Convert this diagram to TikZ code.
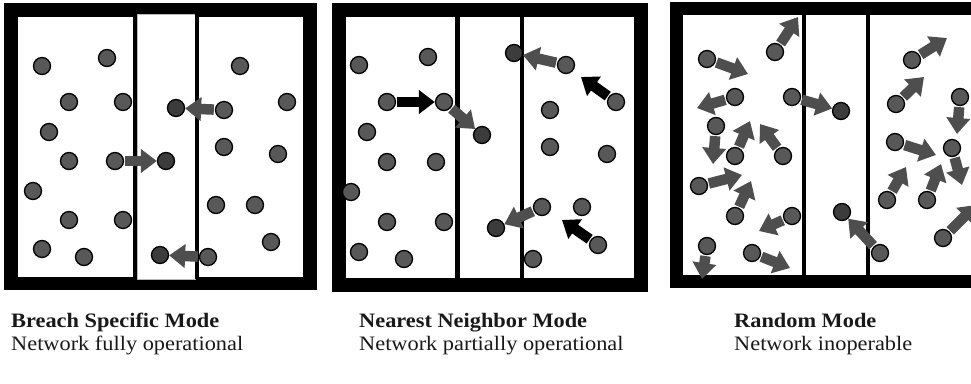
\documentclass[tikz,border=0pt]{standalone}
\usepackage{fontspec}
\setmainfont{Liberation Serif}
\newfontfamily\capfont[FakeStretch=1.09]{Liberation Serif}
\usetikzlibrary{arrows.meta}
\pgfdeclarelayer{back}
\pgfdeclarelayer{mid}
\pgfsetlayers{back,mid,main}
\definecolor{dotgray}{RGB}{88,88,88}
\definecolor{dotdark}{RGB}{60,60,60}
\definecolor{arrgray}{RGB}{78,78,78}
\definecolor{txt}{RGB}{25,25,25}
\tikzset{
  dot/.style={circle, draw=black, line width=1.3pt, fill=dotgray, minimum size=17pt, inner sep=0pt},
  ddot/.style={dot, fill=dotdark},
  mv/.style={draw=arrgray, line width=10.5pt, shorten <=1pt, -{Triangle[length=16pt,width=23pt]}},
  mvk/.style={mv, draw=black},
  frame/.style={fill=black},
  inner/.style={fill=white},
  divider/.style={draw=black, line width=4.2pt},
  strip/.style={fill=white, draw=gray!55, line width=0.6pt},
  ttl/.style={anchor=base west, inner sep=0pt, text=txt, font=\capfont\bfseries\fontsize{20.5}{24}\selectfont},
  sub/.style={anchor=base west, inner sep=0pt, text=txt, font=\capfont\fontsize{20.5}{24}\selectfont}
}
\begin{document}
\begin{tikzpicture}[x=1pt,y=-1pt]
\useasboundingbox (0,0) rectangle (971,383);

% ---------- frames ----------
\begin{pgfonlayer}{back}
  \fill[white] (0,0) rectangle (971,383);
  % panel 1
  \fill[frame] (4,3) rectangle (317,290);
  \fill[inner] (18,17) rectangle (303,277);
  \filldraw[strip] (137,14) rectangle (195,279);
  \draw[divider] (135,14) -- (135,279);
  \draw[divider] (197,14) -- (197,279);
  % panel 2
  \fill[frame] (332,3) rectangle (648,292);
  \fill[inner] (346,17) rectangle (634,278);
  \draw[divider] (457.5,17) -- (457.5,278);
  \draw[divider] (522,17) -- (522,278);
  % panel 3
  \fill[frame] (670,2) rectangle (975,288);
  \fill[inner] (683,15) rectangle (975,275);
  \draw[divider] (804,15) -- (804,275);
  \draw[divider] (868,15) -- (868,275);
\end{pgfonlayer}

% ---------- panel 1 dots ----------
\node[dot] (a1) at (42,66) {};
\node[dot] (a2) at (107,58) {};
\node[dot] (a3) at (69,102) {};
\node[dot] (a4) at (123,102) {};
\node[dot] (a5) at (49,132) {};
\node[dot] (a6) at (69,161) {};
\node[dot] (a7) at (115,161) {};
\node[dot] (a8) at (33,191) {};
\node[dot] (a9) at (69,220) {};
\node[dot] (a10) at (123,220) {};
\node[dot] (a11) at (42,249) {};
\node[dot] (a12) at (84,257) {};
\node[ddot] (a13) at (176,108) {};
\node[ddot] (a14) at (166,161) {};
\node[ddot] (a15) at (160,255) {};
\node[dot] (a16) at (240,66) {};
\node[dot] (a17) at (287,102) {};
\node[dot] (a18) at (224,110) {};
\node[dot] (a19) at (224,147) {};
\node[dot] (a20) at (278,154) {};
\node[dot] (a21) at (216,205) {};
\node[dot] (a22) at (255,205) {};
\node[dot] (a23) at (271,242) {};
\node[dot] (a24) at (208,257) {};

% ---------- panel 2 dots ----------
\node[dot] (b1) at (359,65) {};
\node[dot] (b2) at (428,57) {};
\node[dot] (b3) at (387,102) {};
\node[dot] (b4) at (444,102) {};
\node[dot] (b5) at (367,132) {};
\node[ddot] (b6) at (482,135) {};
\node[dot] (b7) at (387,162) {};
\node[dot] (b8) at (436,162) {};
\node[dot] (b9) at (351,192) {};
\node[dot] (b10) at (387,222) {};
\node[dot] (b11) at (444,222) {};
\node[dot] (b12) at (359,252) {};
\node[dot] (b13) at (404,259) {};
\node[ddot] (b14) at (514,53) {};
\node[dot] (b15) at (566,65) {};
\node[dot] (b16) at (616,102) {};
\node[dot] (b17) at (550,110) {};
\node[dot] (b18) at (550,147) {};
\node[dot] (b19) at (607,154) {};
\node[dot] (b20) at (542,207) {};
\node[dot] (b21) at (582,207) {};
\node[ddot] (b22) at (496,228) {};
\node[dot] (b23) at (598,245) {};
\node[dot] (b24) at (533,259) {};

% ---------- panel 3 dots ----------
\node[dot] (c1) at (707,59) {};
\node[dot] (c2) at (775,52) {};
\node[dot] (c3) at (735,97) {};
\node[dot] (c4) at (792,97) {};
\node[ddot] (c5) at (841,111) {};
\node[dot] (c6) at (716,126) {};
\node[dot] (c7) at (735,156) {};
\node[dot] (c8) at (783,156) {};
\node[dot] (c9) at (699,186) {};
\node[dot] (c10) at (735,216) {};
\node[dot] (c11) at (792,216) {};
\node[ddot] (c12) at (842,212) {};
\node[dot] (c13) at (707,246) {};
\node[dot] (c14) at (752,253) {};
\node[dot] (c15) at (880,253) {};
\node[dot] (c16) at (912,60) {};
\node[dot] (c17) at (896,104) {};
\node[dot] (c18) at (960,97) {};
\node[dot] (c19) at (895,142) {};
\node[dot] (c20) at (952,148) {};
\node[dot] (c21) at (887,200) {};
\node[dot] (c22) at (927,200) {};
\node[dot] (c23) at (943,238) {};

% free arrow ends
\coordinate (e16) at (581,77);
\coordinate (e23) at (562,220);
\coordinate (f1) at (748,74);
\coordinate (f2) at (798,17);
\coordinate (f3) at (697,108);
\coordinate (f6) at (713,164);
\coordinate (f7) at (750,121);
\coordinate (f8) at (760,124);
\coordinate (f9) at (742,175);
\coordinate (f10) at (751,181);
\coordinate (f11) at (759,231);
\coordinate (f13) at (702,279);
\coordinate (f14) at (790,268);
\coordinate (f16) at (947,38);
\coordinate (f17) at (924,77);
\coordinate (f18) at (957,134);
\coordinate (f19) at (936,155);
\coordinate (f20) at (962,185);
\coordinate (f21) at (906,167);
\coordinate (f22) at (941,164);
\coordinate (f23) at (976,205);

% ---------- arrows ----------
\begin{pgfonlayer}{mid}
  \draw[mv] (a18) -- (a13);
  \draw[mv] (a7) -- (a14);
  \draw[mv] (a24) -- (a15);

  \draw[mvk] (b3) -- (b4);
  \draw[mv] (b4) -- (b6);
  \draw[mv] (b15) -- (b14);
  \draw[mvk] (b16) -- (e16);
  \draw[mv] (b20) -- (b22);
  \draw[mvk] (b23) -- (e23);

  \draw[mv] (c1) -- (f1);
  \draw[mv] (c2) -- (f2);
  \draw[mv] (c3) -- (f3);
  \draw[mv] (c4) -- (c5);
  \draw[mv] (c6) -- (f6);
  \draw[mv] (c7) -- (f7);
  \draw[mv] (c8) -- (f8);
  \draw[mv] (c9) -- (f9);
  \draw[mv] (c10) -- (f10);
  \draw[mv] (c11) -- (f11);
  \draw[mv] (c13) -- (f13);
  \draw[mv] (c14) -- (f14);
  \draw[mv] (c15) -- (c12);
  \draw[mv] (c16) -- (f16);
  \draw[mv] (c17) -- (f17);
  \draw[mv] (c18) -- (f18);
  \draw[mv] (c19) -- (f19);
  \draw[mv] (c20) -- (f20);
  \draw[mv] (c21) -- (f21);
  \draw[mv] (c22) -- (f22);
  \draw[mv] (c23) -- (f23);
\end{pgfonlayer}

% ---------- captions ----------
\node[ttl] (t1) at (11,327) {Breach Specific Mode};
\node[sub] (s1) at (11,350) {Network fully operational};
\node[ttl] (t2) at (359,327) {Nearest Neighbor Mode};
\node[sub] (s2) at (359,350) {Network partially operational};
\node[ttl] (t3) at (734,327) {Random Mode};
\node[sub] (s3) at (734,350) {Network inoperable};
\end{tikzpicture}
\end{document}
